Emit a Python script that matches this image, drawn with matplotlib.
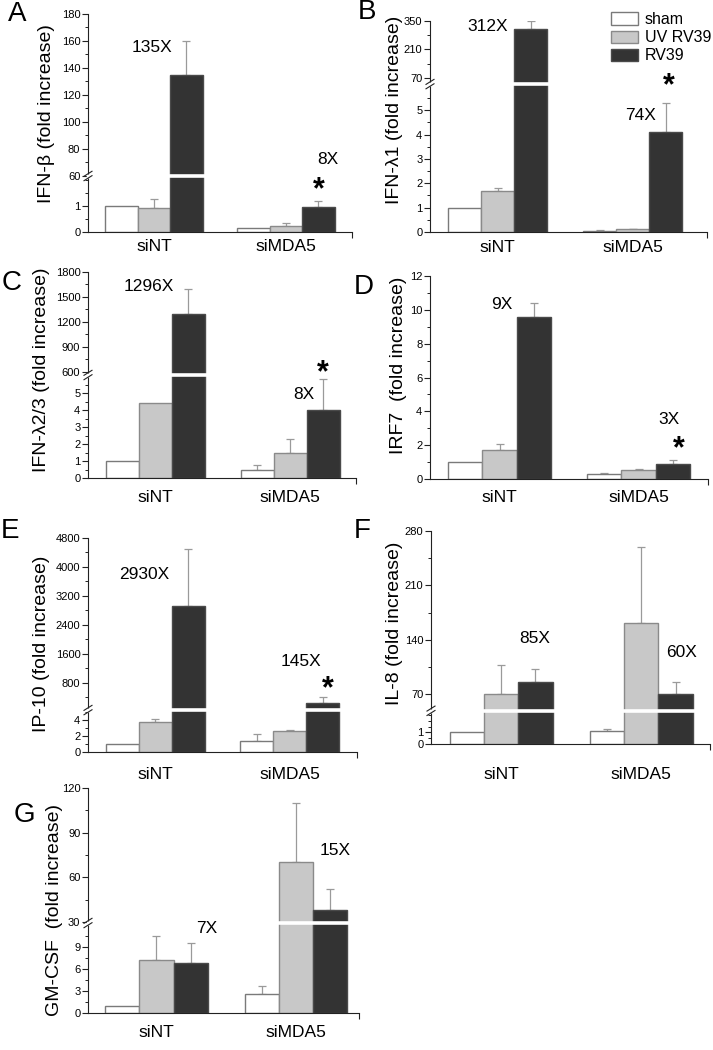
import numpy as np
import matplotlib
matplotlib.use('Agg')
import matplotlib.pyplot as plt
from matplotlib.transforms import ScaledTranslation

plt.rcParams['font.family'] = ['Liberation Sans', 'DejaVu Sans']

W, H = 713, 1050

groups = ['siNT', 'siMDA5']
series = ['sham', 'UV RV39', 'RV39']

# A: IFN-beta
ifnb_sham = [1.0, 0.13]
ifnb_uv = [0.9, 0.22]
ifnb_rv = [135, 0.96]
ifnb_sham_err = [0, 0]
ifnb_uv_err = [0.35, 0.1]
ifnb_rv_err = [25, 0.23]

# B: IFN-lambda1
ifnl1_sham = [1.0, 0.05]
ifnl1_uv = [1.67, 0.12]
ifnl1_rv = [312, 4.1]
ifnl1_sham_err = [0, 0.02]
ifnl1_uv_err = [0.13, 0.01]
ifnl1_rv_err = [38, 1.2]

# C: IFN-lambda2/3
ifnl23_sham = [1.0, 0.5]
ifnl23_uv = [4.4, 1.5]
ifnl23_rv = [1296, 4.0]
ifnl23_sham_err = [0, 0.25]
ifnl23_uv_err = [0, 0.8]
ifnl23_rv_err = [304, 1.8]

# D: IRF7
irf7_sham = [1.0, 0.3]
irf7_uv = [1.7, 0.55]
irf7_rv = [9.6, 0.9]
irf7_sham_err = [0, 0.03]
irf7_uv_err = [0.35, 0.07]
irf7_rv_err = [0.8, 0.25]

# E: IP-10
ip10_sham = [1.0, 1.4]
ip10_uv = [3.7, 2.6]
ip10_rv = [2930, 225]
ip10_sham_err = [0, 0.9]
ip10_uv_err = [0.4, 0.15]
ip10_rv_err = [1570, 165]

# F: IL-8
il8_sham = [1.0, 1.15]
il8_uv = [70, 162]
il8_rv = [85, 70]
il8_sham_err = [0, 0.15]
il8_uv_err = [37, 97]
il8_rv_err = [17, 16]

# G: GM-CSF
gmcsf_sham = [1.0, 2.6]
gmcsf_uv = [7.2, 70]
gmcsf_rv = [6.8, 38]
gmcsf_sham_err = [0, 1.1]
gmcsf_uv_err = [3.2, 40]
gmcsf_rv_err = [2.7, 14]

face = ['white', '#c8c8c8', '#333333']
edge = ['#7a7a7a', '#8a8a8a', '#4a4a4a']
width = 0.245


def broken_scale(lo_top, up_bot, top, f):
    def fwd(v):
        v = np.asarray(v, dtype=float)
        return np.where(v <= lo_top, v / lo_top * f,
                        f + np.maximum(v - up_bot, 0) / (top - up_bot) * (1 - f))

    def inv(u):
        u = np.asarray(u, dtype=float)
        return np.where(u <= f, u / f * lo_top,
                        up_bot + (u - f) / (1 - f) * (top - up_bot))
    return fwd, inv


fig = plt.figure(figsize=(W / 100, H / 100), dpi=100)


def panel(letter, letter_xy, box, xlim, ylabel, ylabel_xy, vals, errs,
          top, brk, major, minor, notes, xpad, legend=False):
    left, right, ytop, ybot = box
    ax = fig.add_axes([left / W, 1 - ybot / H, (right - left) / W, (ybot - ytop) / H])
    if brk is not None:
        ax.set_yscale('function', functions=broken_scale(brk[0], brk[1], top, brk[2]))
    x = np.arange(len(groups))
    bars = []
    for i in range(3):
        xi = x + (i - 1) * width
        b = ax.bar(xi, vals[i], width, color=face[i], edgecolor=edge[i],
                   linewidth=1.0, zorder=2, label=series[i])
        bars.append(b)
        for xx, v, e in zip(xi, vals[i], errs[i]):
            if e > 0:
                ax.errorbar(xx, v, yerr=[[0], [e]], fmt='none', ecolor='#9a9a9a',
                            elinewidth=0.9, capsize=3, capthick=0.9, zorder=1)
    ax.set_xlim(*xlim)
    ax.set_ylim(0, top)
    ax.set_yticks(major)
    ax.set_yticklabels([('%g' % m) for m in major])
    ax.set_yticks(minor, minor=True)
    ax.set_xticks(x)
    ax.set_xticklabels(groups)
    ax.set_xticks([xlim[1]], minor=True)
    for s in ['top', 'right']:
        ax.spines[s].set_visible(False)
    for s in ['left', 'bottom']:
        ax.spines[s].set_linewidth(0.8)
        ax.spines[s].set_color('#222222')
    ax.tick_params(axis='y', which='major', length=4, width=0.8, labelsize=8,
                   pad=1.5, color='#222222')
    ax.tick_params(axis='y', which='minor', length=2, width=0.7, color='#222222')
    ax.tick_params(axis='x', which='major', length=0, labelsize=12.5, pad=xpad)
    ax.tick_params(axis='x', which='minor', length=4, width=0.8, color='#222222')

    if brk is not None:
        f = brk[2]
        hpx = ybot - ytop
        wpx = right - left
        ax.plot([0.012, 1], [f, f], transform=ax.transAxes, color='white',
                lw=2.6, zorder=3, solid_capstyle='butt')
        g = 2.2 / hpx
        ax.plot([0, 0], [f - g, f + g], transform=ax.transAxes, color='white',
                lw=2.5, zorder=5, clip_on=False, solid_capstyle='butt')
        dx = 4.0 / wpx
        dy = 2.5 / hpx
        for c in (f - g, f + g):
            ax.plot([-dx, dx], [c - dy, c + dy], transform=ax.transAxes,
                    color='#222222', lw=0.8, zorder=6, clip_on=False)

    star_shift = ax.transData + ScaledTranslation(0, -5.5 / 100, fig.dpi_scale_trans)
    for txt, tx, ty in notes:
        if txt == '*':
            ax.text(tx, ty, '*', fontsize=22, fontweight='bold', ha='center',
                    va='center', zorder=6, transform=star_shift)
        else:
            ax.text(tx, ty, txt, fontsize=12.5, ha='center', va='center', zorder=6)

    fig.text(ylabel_xy[0] / W, 1 - ylabel_xy[1] / H, ylabel, rotation=90,
             fontsize=14, ha='center', va='center')
    fig.text(letter_xy[0] / W, 1 - letter_xy[1] / H, letter, fontsize=20,
             ha='center', va='center')

    if legend:
        fig.legend(handles=bars, labels=series, loc='upper left',
                   bbox_to_anchor=(611 / W, 1 - 12 / H), frameon=False,
                   fontsize=11.5, handlelength=1.7, handleheight=0.8,
                   handletextpad=0.4, labelspacing=0.2, borderpad=0,
                   borderaxespad=0)
    return ax


panel('A', (17, 14), (88, 352, 14, 231.7), (-0.5, 1.5), 'IFN-β (fold increase)', (47, 114),
      [ifnb_sham, ifnb_uv, ifnb_rv], [ifnb_sham_err, ifnb_uv_err, ifnb_rv_err],
      180, (2.14, 60, 0.256),
      [0, 1, 60, 80, 100, 120, 140, 160, 180],
      [0.5, 1.5, 2.0, 70, 90, 110, 130, 150, 170],
      [('135X', -0.015, 155), ('8X', 1.32, 72), ('*', 1.25, 1.8)], 5.5)

panel('B', (367, 12), (430, 707, 21, 232), (-0.5, 1.55), 'IFN-λ1 (fold increase)', (394, 110),
      [ifnl1_sham, ifnl1_uv, ifnl1_rv], [ifnl1_sham_err, ifnl1_uv_err, ifnl1_rv_err],
      350, (6.07, 40, 0.701),
      [0, 1, 2, 3, 4, 5, 70, 210, 350],
      [0.5, 1.5, 2.5, 3.5, 4.5, 5.5, 140, 280],
      [('312X', -0.074, 321), ('74X', 1.06, 4.8), ('*', 1.27, 58)], 5.5, legend=True)

panel('C', (12, 283), (88, 356, 272, 478), (-0.5, 1.49), 'IFN-λ2/3 (fold increase)', (42, 370),
      [ifnl23_sham, ifnl23_uv, ifnl23_rv], [ifnl23_sham_err, ifnl23_uv_err, ifnl23_rv_err],
      1800, (6.06, 564, 0.5),
      [0, 1, 2, 3, 4, 5, 600, 900, 1200, 1500, 1800],
      [0.5, 1.5, 2.5, 3.5, 4.5, 5.5, 750, 1050, 1350, 1650],
      [('1296X', -0.05, 1620), ('8X', 1.10, 4.9), ('*', 1.245, 650)], 8.5)

panel('D', (364, 287), (430, 708, 276, 479), (-0.5, 1.5), 'IRF7  (fold increase)', (399, 365),
      [irf7_sham, irf7_uv, irf7_rv], [irf7_sham_err, irf7_uv_err, irf7_rv_err],
      12, None,
      [0, 2, 4, 6, 8, 10, 12],
      [1, 3, 5, 7, 9, 11],
      [('9X', 0.015, 10.3), ('3X', 1.22, 3.5), ('*', 1.29, 2.1)], 8)

panel('E', (10, 531), (88, 357, 538, 752), (-0.5, 1.5), 'IP-10 (fold increase)', (42, 644),
      [ip10_sham, ip10_uv, ip10_rv], [ip10_sham_err, ip10_uv_err, ip10_rv_err],
      4800, (5.25, 40, 0.196),
      [0, 2, 4, 800, 1600, 2400, 3200, 4000, 4800],
      [1, 3, 5, 400, 1200, 2000, 2800, 3600, 4400],
      [('2930X', -0.085, 3778), ('145X', 1.08, 1396), ('*', 1.28, 760)], 11)

panel('F', (362, 531), (431, 710, 531, 744), (-0.5, 1.49), 'IL-8 (fold increase)', (394, 623),
      [il8_sham, il8_uv, il8_rv], [il8_sham_err, il8_uv_err, il8_rv_err],
      280, (2.85, 48.5, 0.156),
      [0, 1, 70, 140, 210, 280],
      [0.5, 1.5, 2.0, 2.5, 105, 175, 245],
      [('85X', 0.24, 141), ('60X', 1.29, 123)], 16.5)

panel('G', (24, 815), (88, 359, 788, 1013), (-0.49, 1.45), 'GM-CSF  (fold increase)', (55, 910),
      [gmcsf_sham, gmcsf_uv, gmcsf_rv], [gmcsf_sham_err, gmcsf_uv_err, gmcsf_rv_err],
      120, (12.2, 29.3, 0.4),
      [0, 3, 6, 9, 30, 60, 90, 120],
      [1.5, 4.5, 7.5, 10.5, 45, 75, 105],
      [('7X', 0.36, 11.5), ('15X', 1.28, 77.7)], 8.5)

fig.savefig('out.png', dpi=100)
